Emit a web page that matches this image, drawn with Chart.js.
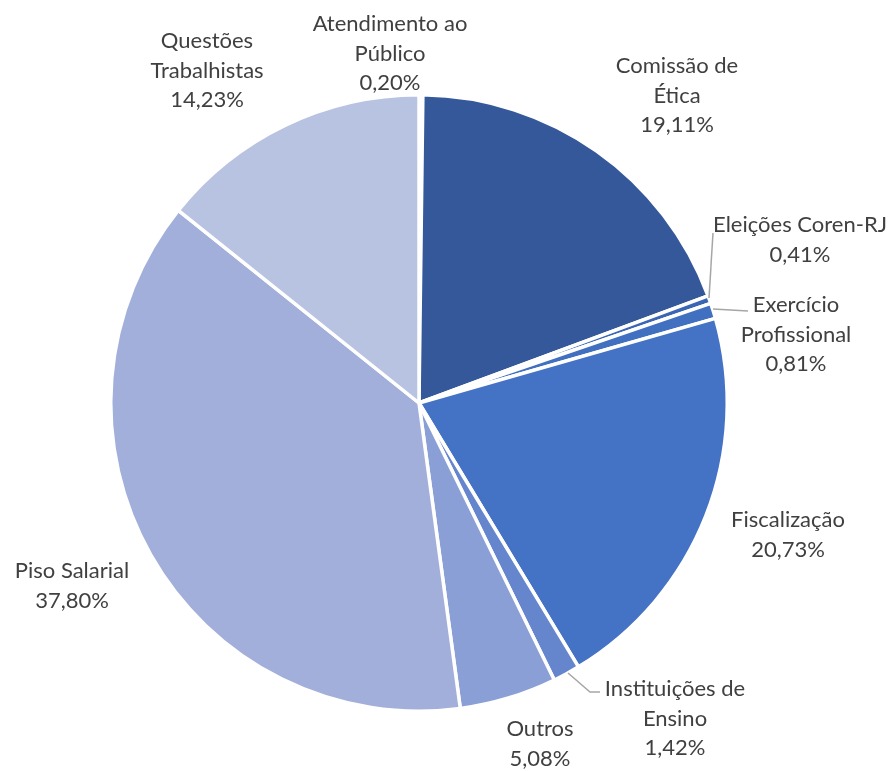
<!DOCTYPE html>
<html>
<head>
<meta charset="utf-8">
<script src="https://cdn.jsdelivr.net/npm/chart.js@4/dist/chart.umd.min.js"></script>
<style>
html,body{margin:0;padding:0;background:#fff;}
#wrap{width:891px;height:771px;position:relative;}
</style>
</head>
<body>
<div id="wrap"><canvas id="c" width="891" height="771"></canvas></div>
<script>
const categories = ["Atendimento ao Público","Comissão de Ética","Eleições Coren-RJ","Exercício Profissional","Fiscalização","Instituições de Ensino","Outros","Piso Salarial","Questões Trabalhistas"];
const values = [0.20, 19.11, 0.41, 0.81, 20.73, 1.42, 5.08, 37.80, 14.23];
const valueLabels = ["0,20%","19,11%","0,41%","0,81%","20,73%","1,42%","5,08%","37,80%","14,23%"];
const labelLines = [["Atendimento ao","Público"],["Comissão de","Ética"],["Eleições Coren-RJ"],["Exercício","Profissional"],["Fiscalização"],["Instituições de","Ensino"],["Outros"],["Piso Salarial"],["Questões","Trabalhistas"]];
const colors = ["#ffffff","#34589a","#3a66b4","#4270c0","#4472c4","#6585cd","#8a9fd6","#a2afda","#b8c3e2"];

// label anchor (center x, first-line y) and leader lines
const labelPos = [[390,24],[677,66],[800,225],[796,305],[788,520],[675,689],[540,729],[72,571],[207,41]];
const leaders = {2:[[709,298],[713,233]],3:[[713,309],[748,311]],5:[[568,673],[590,692],[600,692]]};

const labelPlugin = {
  id:'labels',
  afterDraw(chart){
    const ctx = chart.ctx;
    ctx.save();
    ctx.strokeStyle = '#a6a6a6';
    ctx.lineWidth = 1.5;
    Object.keys(leaders).forEach(k=>{
      const pts = leaders[k];
      ctx.beginPath();
      ctx.moveTo(pts[0][0],pts[0][1]);
      for(let i=1;i<pts.length;i++) ctx.lineTo(pts[i][0],pts[i][1]);
      ctx.stroke();
    });
    ctx.fillStyle = '#404040';
    ctx.font = '22px Lato';
    ctx.textAlign = 'center';
    ctx.textBaseline = 'middle';
    categories.forEach((c,i)=>{
      const lines = labelLines[i].concat([valueLabels[i]]);
      const [x,y] = labelPos[i];
      lines.forEach((t,j)=>ctx.fillText(t,x,y+j*29.5));
    });
    ctx.restore();
  }
};

new Chart(document.getElementById('c'),{
  type:'pie',
  data:{labels:categories,datasets:[{data:values,backgroundColor:colors,borderColor:'#ffffff',borderWidth:3.5}]},
  options:{
    responsive:false,
    animation:false,
    layout:{padding:{left:109,right:162,top:93,bottom:58}},
    plugins:{legend:{display:false},tooltip:{enabled:false}}
  },
  plugins:[labelPlugin]
});
</script>
</body>
</html>
